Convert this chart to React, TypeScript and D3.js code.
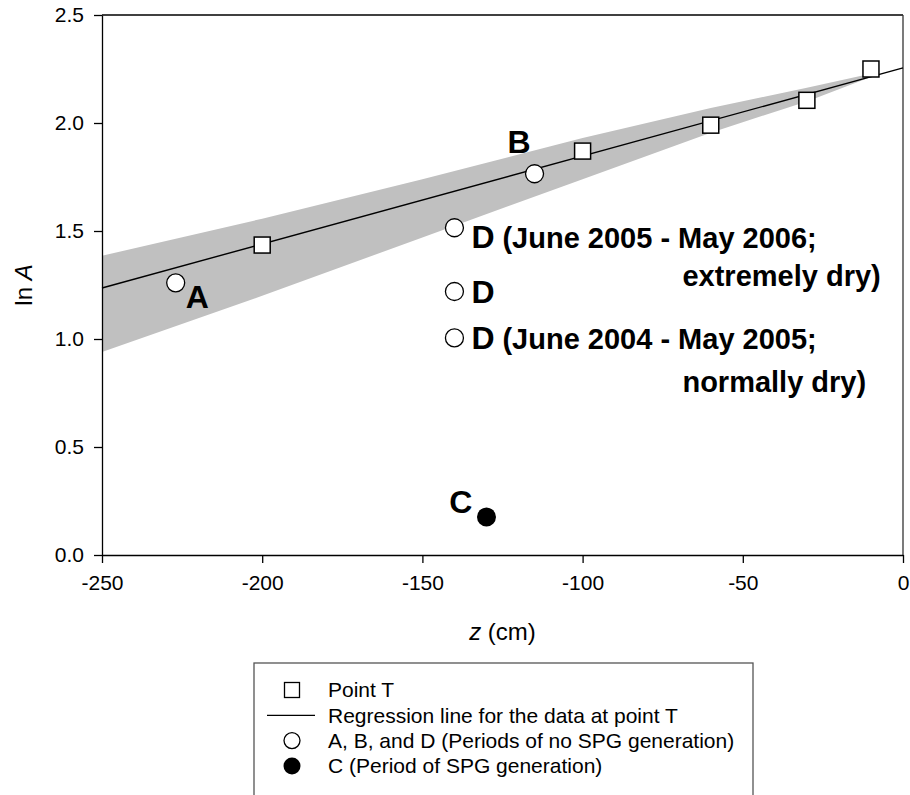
import React, { useEffect, useRef } from "react";
import * as d3 from "d3";

// Point T
const tZ = [-200, -100, -60, -30, -10];
const tLnA = [1.435, 1.87, 1.99, 2.105, 2.25];

// regression line for point T
const regZ = [-250, 0];
const regLnA = [1.236, 2.255];

// shaded band around the regression
const bandZ = [-250, -200, -150, -100, -60, -30, -8];
const bandUpper = [1.385, 1.557, 1.74, 1.93, 2.07, 2.163, 2.235];
const bandLower = [0.94, 1.2, 1.47, 1.74, 1.955, 2.1, 2.225];

// open circles (A, B, D) and the filled one (C)
const openNames = ["A", "B", "D1", "D2", "D3"];
const openZ = [-227, -115, -140, -140, -140];
const openLnA = [1.26, 1.765, 1.515, 1.22, 1.005];
const filledZ = [-130];
const filledLnA = [0.176];

const xTicks = [-250, -200, -150, -100, -50, 0];
const yTicks = [0, 0.5, 1.0, 1.5, 2.0, 2.5];

const legendLabels = [
  "Point T",
  "Regression line for the data at point T",
  "A, B, and D (Periods of no SPG generation)",
  "C (Period of SPG generation)",
];

const FONT = "'Liberation Sans', Arial, sans-serif";

export default function App() {
  const ref = useRef<SVGSVGElement>(null);

  useEffect(() => {
    if (!ref.current) return;
    const svg = d3.select(ref.current);
    svg.selectAll("*").remove();

    const margin = { top: 15, left: 102, right: 7, bottom: 240 };
    const width = 910 - margin.left - margin.right;
    const height = 795 - margin.top - margin.bottom;

    const x = d3.scaleLinear().domain([-250, 0]).range([0, width]);
    const y = d3.scaleLinear().domain([0, 2.5]).range([height, 0]);

    const g = svg
      .append("g")
      .attr("transform", `translate(${margin.left},${margin.top})`);

    // band
    const area = d3
      .area<number>()
      .x((d, i) => x(bandZ[i]))
      .y0((d, i) => y(bandLower[i]))
      .y1((d, i) => y(bandUpper[i]));
    g.append("path")
      .datum(bandZ)
      .attr("d", area)
      .attr("fill", "#c0c0c0");

    // frame top/right
    g.append("line")
      .attr("x1", 0).attr("x2", width).attr("y1", 0).attr("y2", 0)
      .attr("stroke", "#000").attr("stroke-width", 1.3);
    g.append("line")
      .attr("x1", width).attr("x2", width).attr("y1", 0).attr("y2", height)
      .attr("stroke", "#333").attr("stroke-width", 1.3);

    // axes
    const xAxis = g
      .append("g")
      .attr("transform", `translate(0,${height})`)
      .call(
        d3.axisBottom(x).tickValues(xTicks).tickSize(8).tickSizeOuter(0).tickPadding(12)
          .tickFormat((d) => String(d))
      );
    const yAxis = g
      .append("g")
      .call(
        d3.axisLeft(y).tickValues(yTicks).tickSize(8).tickSizeOuter(0).tickPadding(10)
          .tickFormat((d) => (+d).toFixed(1))
      );
    [xAxis, yAxis].forEach((a) => {
      a.select(".domain").attr("stroke", "#000").attr("stroke-width", 1.3);
      a.selectAll(".tick line").attr("stroke", "#000").attr("stroke-width", 1.3);
      a.selectAll(".tick text")
        .attr("font-family", FONT)
        .attr("font-size", 21)
        .attr("fill", "#000");
    });

    // regression line
    const line = d3
      .line<number>()
      .x((d, i) => x(regZ[i]))
      .y((d, i) => y(regLnA[i]));
    g.append("path")
      .datum(regZ)
      .attr("d", line)
      .attr("fill", "none")
      .attr("stroke", "#000")
      .attr("stroke-width", 1.4);

    // squares
    const sq = 16;
    g.selectAll(".sq")
      .data(tZ)
      .enter()
      .append("rect")
      .attr("x", (d) => x(d) - sq / 2)
      .attr("y", (d, i) => y(tLnA[i]) - sq / 2)
      .attr("width", sq)
      .attr("height", sq)
      .attr("fill", "#fff")
      .attr("stroke", "#000")
      .attr("stroke-width", 1.5);

    // open circles
    g.selectAll(".oc")
      .data(openZ)
      .enter()
      .append("circle")
      .attr("cx", (d) => x(d))
      .attr("cy", (d, i) => y(openLnA[i]))
      .attr("r", 9)
      .attr("fill", "#fff")
      .attr("stroke", "#000")
      .attr("stroke-width", 1.3);

    // filled circle
    g.selectAll(".fc")
      .data(filledZ)
      .enter()
      .append("circle")
      .attr("cx", (d) => x(d))
      .attr("cy", (d, i) => y(filledLnA[i]))
      .attr("r", 9.5)
      .attr("fill", "#000");

    // point labels
    const big = (px: number, py: number, t: string, anchor = "start", size = 32) =>
      g.append("text")
        .attr("x", px)
        .attr("y", py)
        .attr("text-anchor", anchor)
        .attr("font-family", FONT)
        .attr("font-weight", "bold")
        .attr("font-size", size)
        .text(t);

    const pt = (name: string) => {
      const i = openNames.indexOf(name);
      return [x(openZ[i]), y(openLnA[i])];
    };
    const [ax, ay] = pt("A");
    big(ax + 10, ay + 25, "A");
    const [bx, by] = pt("B");
    big(bx - 4, by - 21, "B", "end");
    big(x(filledZ[0]) - 14, y(filledLnA[0]) - 4, "C", "end");

    const [d1x, d1y] = pt("D1");
    big(d1x + 17, d1y + 20, "D", "start", 32);
    big(d1x + 48, d1y + 20, "(June 2005 - May 2006;", "start", 29);
    big(d1x + 228, d1y + 58, "extremely dry)", "start", 29);
    const [d2x, d2y] = pt("D2");
    big(d2x + 17, d2y + 12, "D", "start", 32);
    const [d3x, d3y] = pt("D3");
    big(d3x + 17, d3y + 11, "D", "start", 32);
    big(d3x + 48, d3y + 11, "(June 2004 - May 2005;", "start", 29);
    big(d3x + 228, d3y + 54, "normally dry)", "start", 29);

    // axis titles
    const xt = svg
      .append("text")
      .attr("x", margin.left + width / 2)
      .attr("y", 640)
      .attr("text-anchor", "middle")
      .attr("font-family", FONT)
      .attr("font-size", 24);
    xt.append("tspan").attr("font-style", "italic").text("z");
    xt.append("tspan").text(" (cm)");

    const yt = svg
      .append("text")
      .attr("transform", `translate(32,${margin.top + y(1.25)}) rotate(-90)`)
      .attr("text-anchor", "middle")
      .attr("font-family", FONT)
      .attr("font-size", 24);
    yt.append("tspan").text("ln ");
    yt.append("tspan").attr("font-style", "italic").text("A");

    // legend
    const lg = svg.append("g").attr("transform", "translate(254,663)");
    lg.append("rect")
      .attr("width", 499)
      .attr("height", 150)
      .attr("fill", "#fff")
      .attr("stroke", "#555")
      .attr("stroke-width", 1.3);
    const rowY = (i: number) => 27 + i * 25.3;
    const symX = 38;
    lg.append("rect")
      .attr("x", symX - 7.5)
      .attr("y", rowY(0) - 7.5)
      .attr("width", 15)
      .attr("height", 15)
      .attr("fill", "#fff")
      .attr("stroke", "#000")
      .attr("stroke-width", 1.3);
    lg.append("line")
      .attr("x1", 13)
      .attr("x2", 61)
      .attr("y1", rowY(1))
      .attr("y2", rowY(1))
      .attr("stroke", "#000")
      .attr("stroke-width", 1.3);
    lg.append("circle")
      .attr("cx", symX)
      .attr("cy", rowY(2))
      .attr("r", 8)
      .attr("fill", "#fff")
      .attr("stroke", "#000")
      .attr("stroke-width", 1.3);
    lg.append("circle")
      .attr("cx", symX)
      .attr("cy", rowY(3))
      .attr("r", 8.5)
      .attr("fill", "#000");
    lg.selectAll(".lt")
      .data(legendLabels)
      .enter()
      .append("text")
      .attr("x", 74)
      .attr("y", (d, i) => rowY(i))
      .attr("dy", "0.35em")
      .attr("font-family", FONT)
      .attr("font-size", 21)
      .text((d) => d);
  }, []);

  return (
    <svg
      ref={ref}
      width={910}
      height={795}
      style={{ position: "absolute", left: 0, top: 0, background: "#fff" }}
    />
  );
}
